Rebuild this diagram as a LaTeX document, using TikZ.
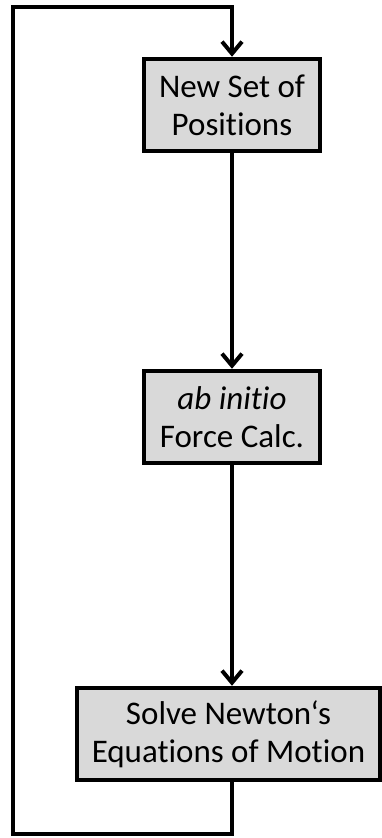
\documentclass[tikz,border=0pt]{standalone}
\usepackage{fontspec}
\setmainfont{Carlito}[Ligatures=NoCommon]
\usetikzlibrary{arrows.meta}
\begin{document}
\begin{tikzpicture}[x=1pt,y=-1pt,
  box/.style={draw=black, line width=4.5pt, fill=boxgray, rectangle, align=center,
    inner sep=0pt, font=\fontsize{33}{38}\selectfont},
  conn/.style={line width=4.5pt, -{Straight Barb[length=12pt,width=20pt,line width=4pt]}},
  loopline/.style={line width=4.5pt}]
\definecolor{boxgray}{HTML}{D9D9D9}
\useasboundingbox (0,0) rectangle (382,838);
\node[box, minimum width=176pt, minimum height=92pt] (pos) at (232,105) {New Set of\\Positions};
\node[box, minimum width=176pt, minimum height=92pt] (force) at (232,417) {\textit{ab initio}\\Force Calc.};
\node[box, minimum width=303pt, minimum height=92pt] (newton) at (228.5,734) {Solve Newton‘s\\Equations of Motion};
\coordinate (bl) at (13,834);
\coordinate (tl) at (13,7);
\draw[conn] (pos.south) -- (force.north);
\draw[conn] (force.south) -- (force.south |- newton.north);
\draw[conn, line join=miter] (force.south |- newton.south) -- (force.south |- bl) -- (bl) -- (tl) -- (pos.north |- tl) -- (pos.north);
\end{tikzpicture}
\end{document}
